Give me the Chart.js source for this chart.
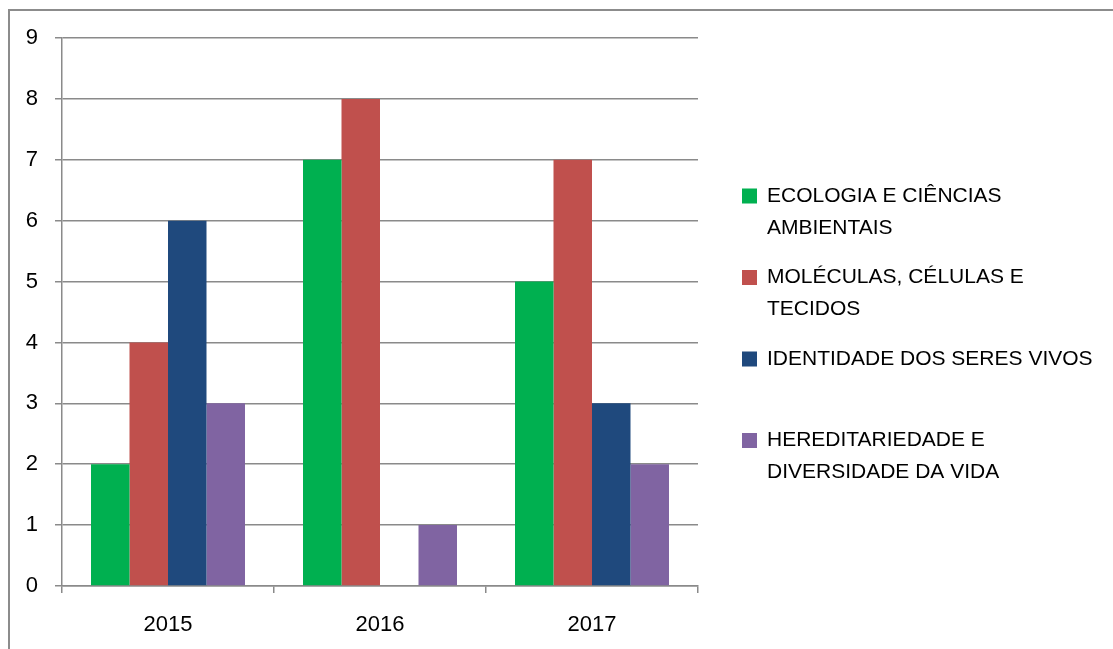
<!DOCTYPE html>
<html>
<head>
<meta charset="utf-8">
<script src="https://cdn.jsdelivr.net/npm/chart.js@4/dist/chart.umd.min.js"></script>
<style>
  html, body { margin: 0; padding: 0; background: #fff; }
  #wrap { width: 1113px; height: 649px; position: relative; }
</style>
</head>
<body>
<div id="wrap"><canvas id="c" width="1113" height="649"></canvas></div>
<script>
const categories = ["2015", "2016", "2017"];
const seriesLines = [
  ["ECOLOGIA E CIÊNCIAS", "AMBIENTAIS"],
  ["MOLÉCULAS, CÉLULAS E", "TECIDOS"],
  ["IDENTIDADE DOS SERES VIVOS"],
  ["HEREDITARIEDADE E", "DIVERSIDADE DA VIDA"]
];
const ecologia = [2, 7, 5];
const moleculas = [4, 8, 7];
const identidade = [6, 0, 3];
const hereditariedade = [3, 1, 2];
const seriesColors = ["#00B050", "#C0504D", "#1F497D", "#8064A2"];
const yTicks = [0, 1, 2, 3, 4, 5, 6, 7, 8, 9];

const seriesValues = [ecologia, moleculas, identidade, hereditariedade];
const FONT = "'Liberation Sans', Arial, sans-serif";

const frame = {
  id: 'frame',
  beforeDraw(chart) {
    const ctx = chart.ctx;
    ctx.save();
    ctx.fillStyle = '#fff';
    ctx.fillRect(0, 0, chart.width, chart.height);
    ctx.strokeStyle = '#8c8c8c';
    ctx.lineWidth = 2;
    ctx.beginPath();
    ctx.moveTo(9, chart.height + 5);
    ctx.lineTo(9, 10);
    ctx.lineTo(chart.width + 5, 10);
    ctx.stroke();
    ctx.restore();
  }
};

const sideLegend = {
  id: 'sideLegend',
  afterDraw(chart) {
    const ctx = chart.ctx;
    ctx.save();
    ctx.font = '21px ' + FONT;
    ctx.textBaseline = 'middle';
    ctx.textAlign = 'left';
    const boxX = 742, textX = 767, firstY = 196, slot = 81.5, lineGap = 32;
    chart.data.datasets.forEach((ds, i) => {
      const y0 = firstY + i * slot;
      ctx.fillStyle = ds.backgroundColor;
      ctx.fillRect(boxX, y0 - 7.5, 15, 15);
      ctx.fillStyle = '#000';
      ds.lines.forEach((t, j) => ctx.fillText(t, textX, y0 + j * lineGap));
    });
    ctx.restore();
  }
};

new Chart(document.getElementById('c'), {
  type: 'bar',
  data: {
    labels: categories,
    datasets: seriesValues.map((vals, i) => ({
      label: seriesLines[i].join(' '),
      lines: seriesLines[i],
      data: vals,
      backgroundColor: seriesColors[i],
      borderWidth: 0,
      categoryPercentage: 0.7264,
      barPercentage: 1.0
    }))
  },
  options: {
    responsive: false,
    devicePixelRatio: 1,
    animation: false,
    layout: { padding: { left: 0, top: 38, right: 415, bottom: 0 } },
    plugins: { legend: { display: false }, tooltip: { enabled: false } },
    scales: {
      x: {
        offset: true,
        afterFit(s) { s.height = 63; },
        grid: { offset: true, drawOnChartArea: false, drawTicks: true, tickLength: 7, color: '#8a8a8a', lineWidth: 1.5 },
        border: { color: '#8a8a8a', width: 1.5 },
        ticks: { color: '#000', font: { family: FONT, size: 22 }, padding: 19 }
      },
      y: {
        min: 0, max: 9,
        afterFit(s) { s.width = 62; },
        afterBuildTicks(s) { s.ticks = yTicks.map(v => ({ value: v })); },
        grid: { color: '#8a8a8a', lineWidth: 1.5, tickLength: 7 },
        border: { color: '#8a8a8a', width: 1.5 },
        ticks: { color: '#000', font: { family: FONT, size: 22 }, padding: 17 }
      }
    }
  },
  plugins: [frame, sideLegend]
});
</script>
</body>
</html>
